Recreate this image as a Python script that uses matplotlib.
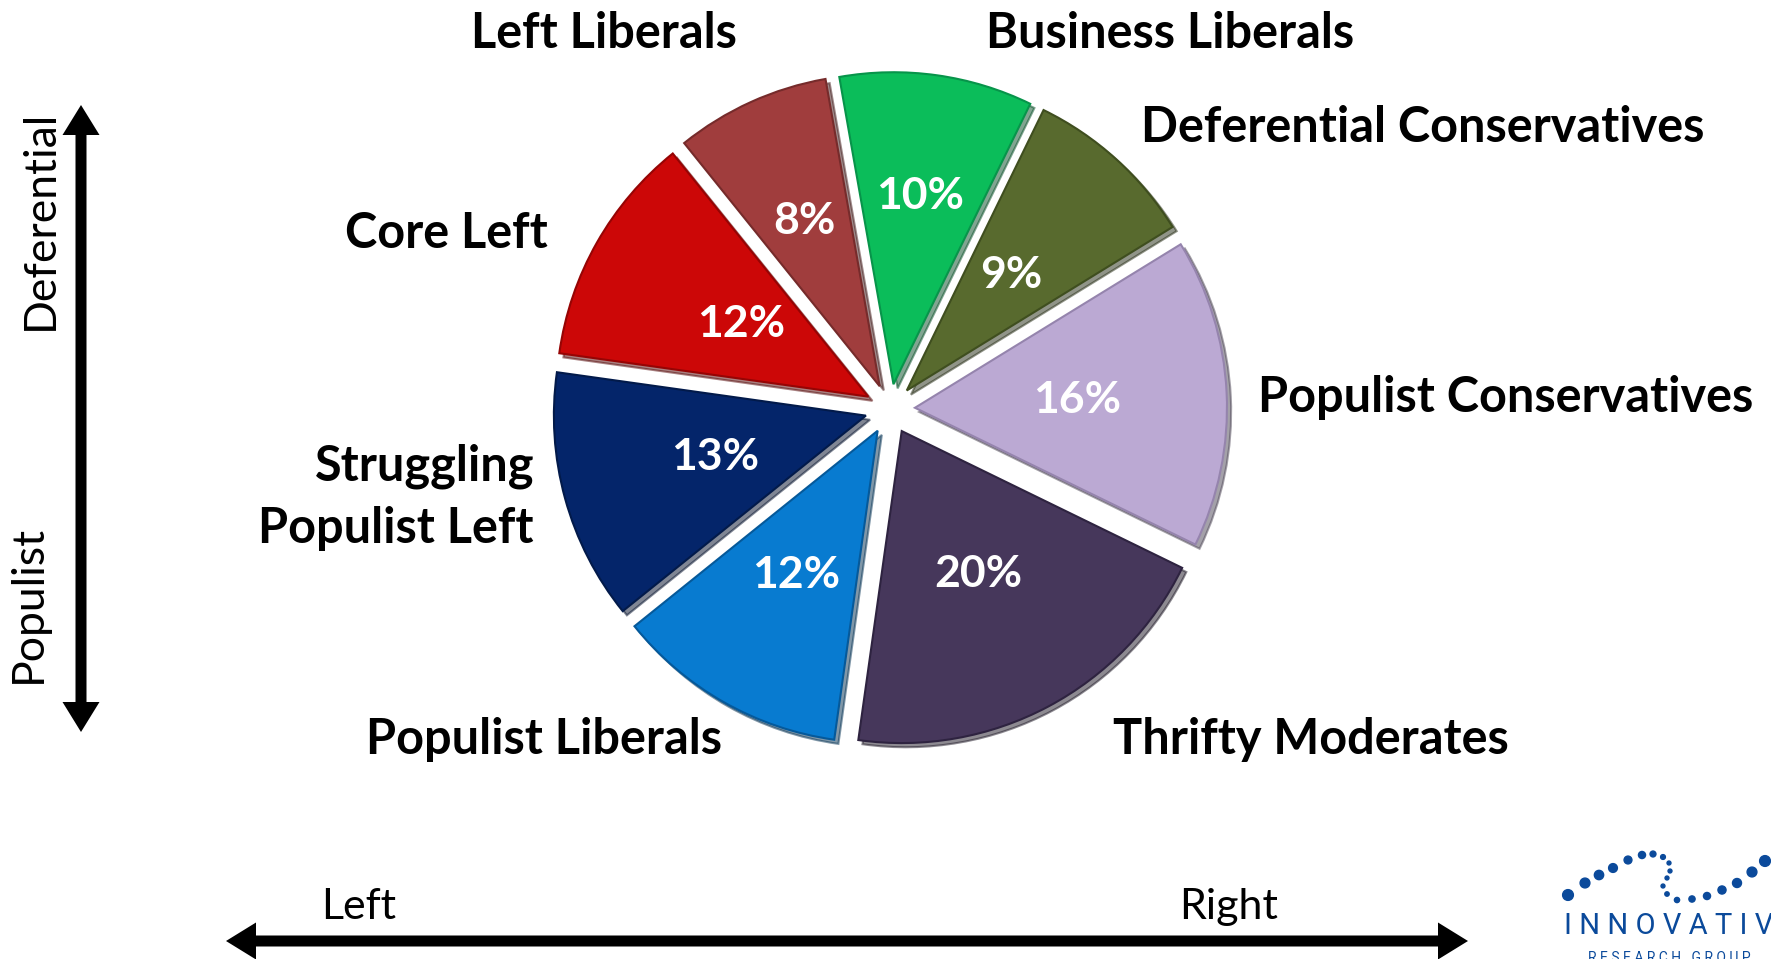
import numpy as np
import matplotlib.pyplot as plt
from matplotlib.patches import Polygon

# segments, clockwise from the top
segments = ['Business Liberals', 'Deferential Conservatives', 'Populist Conservatives',
            'Thrifty Moderates', 'Populist Liberals', 'Struggling\nPopulist Left',
            'Core Left', 'Left Liberals']
shares = [10, 9, 16, 20, 12, 13, 12, 8]
colors = ['#0bbd5a', '#586a2e', '#bba9d3', '#46375b', '#087bd0', '#04256a', '#cc0707', '#a03d3d']
edges = ['#07944a', '#3f4e1f', '#9584ad', '#2e2340', '#05599a', '#021a4a', '#960404', '#762b2b']

# label placement (pixel coords, y from top) and alignment
label_pos = [(1170, 34), (1423, 128), (1506, 398), (1311, 740),
             (544, 740), (534, 497), (446, 234), (604, 34)]
label_ha = ['center', 'center', 'center', 'center', 'center', 'right', 'center', 'center']
pct_r = [0.61, 0.5, 0.52, 0.52, 0.53, 0.5, 0.47, 0.58]

W, H = 1771, 959
R = 312
fig = plt.figure(figsize=(W / 100, H / 100), dpi=100)
ax = fig.add_axes([0, 0, 1, 1])

bold = dict(family=['Lato', 'DejaVu Sans'], fontweight='bold')
reg = dict(family=['Lato', 'DejaVu Sans'])

wedges, texts = ax.pie(
    shares, colors=colors, startangle=100, counterclock=False,
    center=(890, H - 409), radius=R, explode=[25] * len(shares),
    wedgeprops=dict(linewidth=1.5),
    shadow={'ox': 3, 'oy': -3, 'shade': 0.6})
for w, ec, v, r in zip(wedges, edges, shares, pct_r):
    w.set_edgecolor(ec)
    t = np.deg2rad((w.theta1 + w.theta2) / 2)
    cx, cy = w.center
    ax.text(cx + r * R * np.cos(t), cy + r * R * np.sin(t), f'{v}%', ha='center', va='center',
            color='white', fontsize=32, **bold)

for name, (x, y), ha in zip(segments, label_pos, label_ha):
    ax.text(x, H - y, name, ha=ha, va='center', fontsize=35, color='black',
            linespacing=1.45, **bold)


# axis arrows: one polygon with a head at each end
def double_arrow(p0, p1, shaft=11, head_w=37, head_l=30):
    p0, p1 = np.array(p0, float), np.array(p1, float)
    d = (p1 - p0) / np.linalg.norm(p1 - p0)
    n = np.array([-d[1], d[0]])
    a, b = p0 + d * head_l, p1 - d * head_l
    pts = [p0, a + n * head_w / 2, a + n * shaft / 2, b + n * shaft / 2, b + n * head_w / 2,
           p1, b - n * head_w / 2, b - n * shaft / 2, a - n * shaft / 2, a - n * head_w / 2]
    ax.add_patch(Polygon(pts, closed=True, facecolor='black', edgecolor='none'))


double_arrow((81, H - 105), (81, H - 732))
double_arrow((226, H - 941), (1468, H - 941))
ax.text(40, H - 220, 'Deferential', rotation=90, ha='center', va='center', fontsize=32, **reg)
ax.text(28, H - 604, 'Populist', rotation=90, ha='center', va='center', fontsize=32, **reg)
ax.text(359, H - 907, 'Left', ha='center', va='center', fontsize=31, **reg)
ax.text(1229, H - 907, 'Right', ha='center', va='center', fontsize=31, **reg)

# logo in the corner
logo_x = [1568, 1585, 1599, 1613, 1628, 1642, 1653, 1663, 1669, 1670, 1667, 1663,
          1667, 1677, 1692, 1707, 1722, 1737, 1752, 1765]
logo_y = [895, 883, 875, 868, 860, 855, 854, 857, 863, 871, 878, 886,
          894, 900, 899, 896, 890, 883, 872, 861]
logo_s = [60, 50, 45, 40, 32, 26, 18, 12, 8, 8, 8, 8, 10, 14, 20, 26, 34, 42, 50, 60]
ax.scatter(logo_x, [H - y for y in logo_y], s=logo_s, color='#0b4a9b', zorder=3)
ax.text(1564, H - 926, 'I N N O V A T I V E', ha='left', va='center', fontsize=21,
        color='#0b4a9b', family=['Roboto', 'DejaVu Sans'])
ax.text(1588, H - 958, 'R E S E A R C H   G R O U P', ha='left', va='center', fontsize=10,
        color='#0b4a9b', family=['Roboto', 'DejaVu Sans'])

ax.set_xlim(0, W)
ax.set_ylim(0, H)
ax.set_aspect('equal')
ax.axis('off')
fig.savefig('out.png', dpi=100)
